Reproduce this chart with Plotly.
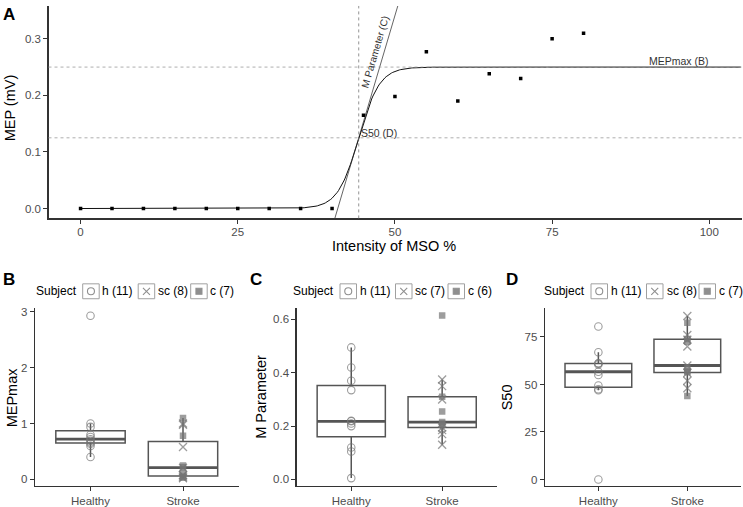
import numpy as np
import plotly.graph_objects as go

W, H = 743, 507

# --- panel A: recruitment curve of one subject ---
mso = [0, 5, 10, 15, 20, 25, 30, 35, 40, 45, 50, 55, 60, 65, 70, 75, 80]
mep = [0, 0, 0, 0, 0, 0, 0, 0, 0, 0.165, 0.198, 0.277, 0.190, 0.238, 0.230, 0.300, 0.310]

# fitted Boltzmann parameters
mep_max = 0.25     # B
m_param = 0.6      # C
s50 = 44.24        # D

# --- panels B-D: group values per subject type ---
groups = ["Healthy", "Stroke"]

mepmax_h = [0.40, 0.60, 0.64, 0.66, 0.69, 0.72, 0.76, 0.80, 0.94, 1.00, 2.93]
mepmax_sc = [0.02, 0.04, 0.07, 0.08, 0.21, 0.58, 0.98, 1.00]
mepmax_c = [0.03, 0.05, 0.12, 0.22, 0.25, 0.78, 1.10]

mparam_h = [0.005, 0.105, 0.12, 0.20, 0.21, 0.218, 0.22, 0.335, 0.37, 0.42, 0.495]
mparam_sc = [0.13, 0.17, 0.185, 0.195, 0.30, 0.35, 0.375]
mparam_c = [0.205, 0.21, 0.215, 0.255, 0.31, 0.615]

s50_h = [0, 47, 47.5, 49.5, 55, 56.7, 60.5, 61, 61.2, 67, 80.5]
s50_sc = [48, 52, 56, 60, 70, 73.5, 76, 86]
s50_c = [44, 56.5, 57, 59, 72.5, 74, 82.5]

FONT = "Liberation Sans, Arial, sans-serif"
AXIS_COL = "#333333"
TICK_COL = "#4d4d4d"
BOX_COL = "#555555"
PT_COL = "rgba(115,115,115,0.7)"


def px(x):
    return x / W


def py(y):
    return 1 - y / H


def axis_style(**kw):
    d = dict(showline=True, linecolor=AXIS_COL, linewidth=1.3, ticks="outside",
             ticklen=4, tickcolor=AXIS_COL, tickwidth=1, showgrid=False, zeroline=False,
             tickfont=dict(family=FONT, size=11.5, color=TICK_COL))
    d.update(kw)
    return d


def note(x, y, text, size, color="black", **kw):
    d = dict(x=px(x), y=py(y), xref="paper", yref="paper", text=text, showarrow=False,
             xanchor="center", yanchor="middle", font=dict(family=FONT, size=size, color=color))
    d.update(kw)
    return d


def quart_stats(vals):
    v = np.array(vals, dtype=float)
    q1, med, q3 = np.percentile(v, [25, 50, 75])
    iqr = q3 - q1
    lo = v[v >= q1 - 1.5 * iqr].min()
    hi = v[v <= q3 + 1.5 * iqr].max()
    return q1, med, q3, lo, hi


fig = go.Figure()

# ---------- panel A ----------
xs = np.linspace(0, 105, 500)
curve = mep_max / (1 + np.exp(-m_param * (xs - s50)))
fig.add_trace(go.Scatter(x=xs, y=curve, mode="lines", line=dict(color="#111111", width=1),
                         xaxis="x", yaxis="y", hoverinfo="skip"))

slope = mep_max * m_param / 4
tx = np.array([s50 - 8, s50 + 10])
fig.add_trace(go.Scatter(x=tx, y=mep_max / 2 + slope * (tx - s50), mode="lines",
                         line=dict(color="#222222", width=0.7), xaxis="x", yaxis="y"))

fig.add_trace(go.Scatter(x=mso, y=mep, mode="markers",
                         marker=dict(symbol="square", size=3.5, color="black"),
                         xaxis="x", yaxis="y"))

shapes = []
for yv in (mep_max, mep_max / 2):
    shapes.append(dict(type="line", xref="x domain", yref="y", x0=0, x1=1, y0=yv, y1=yv,
                       line=dict(color="#9a9a9a", width=0.8, dash="dot")))
shapes.append(dict(type="line", xref="x", yref="y domain", x0=s50, x1=s50, y0=0, y1=1,
                   line=dict(color="#777777", width=0.8, dash="dot")))

annotations = [
    dict(x=100.2, y=mep_max, xref="x", yref="y", text="MEPmax (B)", showarrow=False,
         xanchor="right", yanchor="middle", yshift=6, font=dict(family=FONT, size=10.5, color="#333")),
    dict(x=s50 + 0.1, y=mep_max / 2, xref="x", yref="y", text="S50 (D)", showarrow=False,
         xanchor="left", yanchor="middle", yshift=5, font=dict(family=FONT, size=10.5, color="#333")),
    dict(x=46.9, y=0.277, xref="x", yref="y", text="M Parameter (C)", showarrow=False,
         xanchor="center", yanchor="middle",
         textangle=-73.7, font=dict(family=FONT, size=10, color="#333")),
    note(394, 244, "Intensity of MSO %", 14.5),
    note(10, 106, "MEP (mV)", 14.5, textangle=-90),
    note(9, 12, "<b>A</b>", 17),
]

layout_axes = dict(
    xaxis=axis_style(domain=[px(48.5), px(742)], range=[-5.1, 105.2], anchor="y",
                     tickvals=[0, 25, 50, 75, 100], ticklabelstandoff=-2),
    yaxis=axis_style(domain=[py(216.7), py(3)], range=[-0.0175, 0.358], anchor="x",
                     tickvals=[0, 0.1, 0.2, 0.3], tickformat=".1f"),
)

# ---------- panels B-D ----------
panels = [
    dict(n=2, label="B", title="MEPmax", h=mepmax_h, sc=mepmax_sc, c=mepmax_c,
         xd=(35, 238.5), yr=[-0.12, 3.06], tv=[0, 1, 2, 3], fmt="d", lx=36.7, tx=12, bx=9),
    dict(n=3, label="C", title="M Parameter", h=mparam_h, sc=mparam_sc, c=mparam_c,
         xd=(296.7, 496.7), yr=[-0.025, 0.641], tv=[0, 0.2, 0.4, 0.6], fmt=".1f", lx=294,
         tx=261.5, bx=256),
    dict(n=4, label="D", title="S50", h=s50_h, sc=s50_sc, c=s50_c,
         xd=(545, 740.7), yr=[-3.5, 90.0], tv=[0, 25, 50, 75], fmt="d", lx=545, tx=507, bx=512),
]

for p in panels:
    n = p["n"]
    xa, ya = "x%d" % n, "y%d" % n
    stats = [quart_stats(p["h"]), quart_stats(p["sc"] + p["c"])]
    q1, med, q3, lo, hi = [list(s) for s in zip(*stats)]

    fig.add_trace(go.Box(x=groups, q1=q1, median=med, q3=q3, lowerfence=lo, upperfence=hi,
                         width=0.75, boxpoints=False, whiskerwidth=0, fillcolor="white",
                         line=dict(color=BOX_COL, width=1.5), xaxis=xa, yaxis=ya))
    fig.add_trace(go.Box(x=groups, q1=med, median=med, q3=med, lowerfence=med, upperfence=med,
                         width=0.75, boxpoints=False, whiskerwidth=0, fillcolor="rgba(0,0,0,0)",
                         line=dict(color=BOX_COL, width=2.8), xaxis=xa, yaxis=ya))

    fig.add_trace(go.Scatter(x=["Healthy"] * len(p["h"]), y=p["h"], mode="markers",
                             marker=dict(symbol="circle-open", size=7.5, color=PT_COL,
                                         line=dict(width=1.1)), xaxis=xa, yaxis=ya))
    fig.add_trace(go.Scatter(x=["Stroke"] * len(p["sc"]), y=p["sc"], mode="markers",
                             marker=dict(symbol="x-thin-open", size=8, color=PT_COL,
                                         line=dict(width=1.3, color=PT_COL)), xaxis=xa, yaxis=ya))
    fig.add_trace(go.Scatter(x=["Stroke"] * len(p["c"]), y=p["c"], mode="markers",
                             marker=dict(symbol="square", size=6.5, color=PT_COL),
                             xaxis=xa, yaxis=ya))

    layout_axes["xaxis%d" % n] = axis_style(domain=[px(p["xd"][0]), px(p["xd"][1])],
                                            range=[-0.6, 1.6], anchor=ya, type="category",
                                            categoryorder="array", categoryarray=groups)
    layout_axes["yaxis%d" % n] = axis_style(domain=[py(486), py(307.3)], range=p["yr"],
                                            anchor=xa, tickvals=p["tv"], tickformat=p["fmt"])

    annotations.append(note(p["tx"], 396.7, p["title"], 14.5, textangle=-90))
    annotations.append(note(p["bx"], 278.5, "<b>%s</b>" % p["label"], 17))

    # legend row: "Subject" + three keyed entries
    lx = p["lx"]
    ly = 290
    annotations.append(note(lx - 3, ly, "Subject", 12, xanchor="left"))
    entries = [("h", len(p["h"]), "circle-open", 46, 65.5),
               ("sc", len(p["sc"]), "x-thin-open", 101.5, 121.5),
               ("c", len(p["c"]), "square", 154, 173.5)]
    for name, cnt, sym, kx, txo in entries:
        k0 = lx + kx
        shapes.append(dict(type="rect", xref="paper", yref="paper", layer="below",
                           x0=px(k0), x1=px(k0 + 16.5), y0=py(ly + 7.5), y1=py(ly - 7.5),
                           line=dict(color="#a0a0a0", width=1), fillcolor="white"))
        fig.add_trace(go.Scatter(x=[k0 + 8.25], y=[ly], mode="markers", xaxis="x5", yaxis="y5",
                                 marker=dict(symbol=sym, size=7 if sym != "square" else 6,
                                             color="#8f8f8f", line=dict(width=1.1, color="#8f8f8f"))))
        annotations.append(note(lx + txo - 2, ly, "%s (%d)" % (name, cnt), 12, xanchor="left"))

# overlay axis in pixel units for legend key glyphs
layout_axes["xaxis5"] = dict(domain=[0, 1], range=[0, W], visible=False, anchor="y5")
layout_axes["yaxis5"] = dict(domain=[0, 1], range=[H, 0], visible=False, anchor="x5")

fig.update_layout(
    width=W, height=H,
    margin=dict(l=0, r=0, t=0, b=0),
    paper_bgcolor="white", plot_bgcolor="rgba(0,0,0,0)",
    showlegend=False,
    font=dict(family=FONT, color="black"),
    shapes=shapes,
    annotations=annotations,
    boxmode="overlay",
    **layout_axes,
)

# drop the default page margin so the figure sits at the window origin
fig.write_html("out.html", config={"staticPlot": True},
               post_script="document.body.style.margin='0';document.body.style.overflow='hidden';")
